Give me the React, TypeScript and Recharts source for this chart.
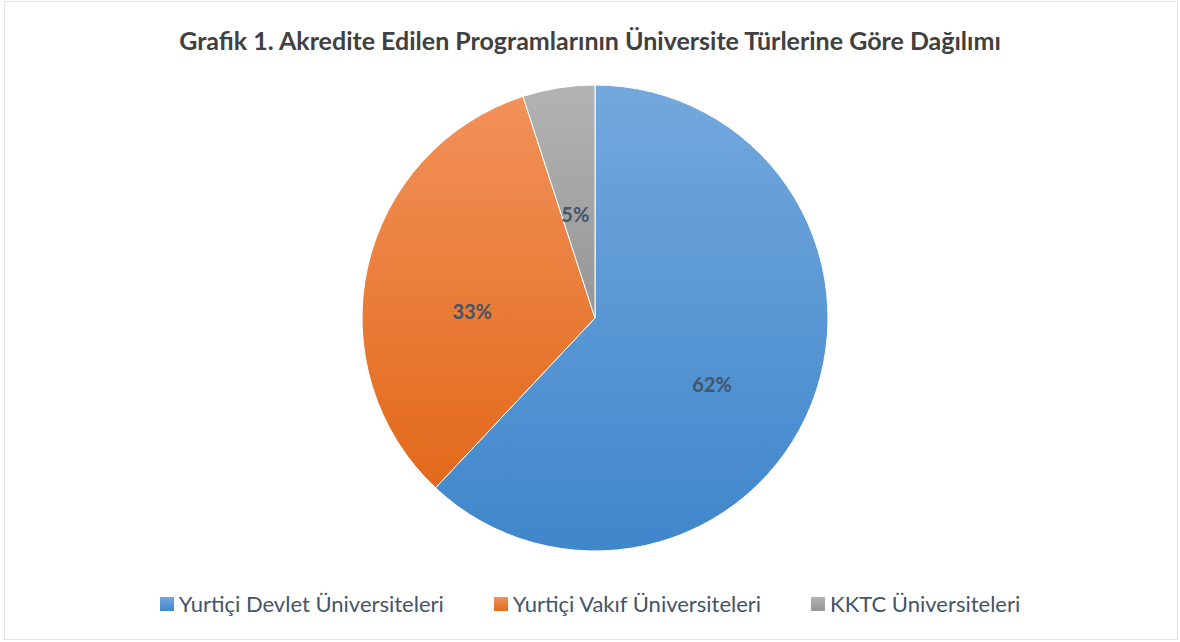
import { PieChart, Pie, Cell } from "recharts";

const categories = [
  "Yurtiçi Devlet Üniversiteleri",
  "Yurtiçi Vakıf Üniversiteleri",
  "KKTC Üniversiteleri",
];
const shares = [62, 33, 5];
const gradients = [
  ["#73a8dd", "#3f86cb"],
  ["#f2915a", "#e2691a"],
  ["#b3b3b3", "#969696"],
];

const data = categories.map((name, i) => ({ name, value: shares[i] }));

const RAD = Math.PI / 180;

function renderLabel(props: any) {
  const { cx, cy, midAngle, outerRadius, percent } = props;
  const r = outerRadius * 0.54;
  const x = cx + r * Math.cos(-midAngle * RAD);
  const y = cy + r * Math.sin(-midAngle * RAD) + 20;
  return (
    <text
      x={x}
      y={y}
      fill="#44546a"
      fontSize={20}
      fontWeight="bold"
      fontFamily="Lato, 'Open Sans', sans-serif"
      textAnchor="middle"
      dominantBaseline="central"
    >
      {Math.round(percent * 100) + "%"}
    </text>
  );
}

export default function App() {
  return (
    <div
      style={{
        position: "absolute",
        left: 0,
        top: 0,
        width: 1180,
        height: 642,
        background: "#fff",
        fontFamily: "Lato, 'Open Sans', sans-serif",
      }}
    >
      <div
        style={{
          position: "absolute",
          left: 4,
          top: 1,
          width: 1172,
          height: 637,
          border: "1px solid #e1e4e8",
        }}
      />
      <div
        style={{
          position: "absolute",
          top: 25,
          left: 0,
          width: 1180,
          textAlign: "center",
          fontSize: 25,
          lineHeight: "30px",
          fontWeight: "bold",
          color: "#404040",
        }}
      >
        Grafik 1. Akredite Edilen Programlarının Üniversite Türlerine Göre Dağılımı
      </div>
      <div style={{ position: "absolute", left: 0, top: 0 }}>
        <PieChart width={1180} height={642}>
          <defs>
            {gradients.map((g, i) => (
              <linearGradient key={i} id={"grad" + i} x1="0" y1="0" x2="0" y2="1">
                <stop offset="0%" stopColor={g[0]} />
                <stop offset="100%" stopColor={g[1]} />
              </linearGradient>
            ))}
          </defs>
          <Pie
            data={data}
            dataKey="value"
            nameKey="name"
            cx={590}
            cy={313}
            outerRadius={233}
            startAngle={90}
            endAngle={-270}
            stroke="#ffffff"
            strokeWidth={1}
            label={renderLabel}
            labelLine={false}
            isAnimationActive={false}
          >
            {data.map((d, i) => (
              <Cell key={d.name} fill={`url(#grad${i})`} />
            ))}
          </Pie>
        </PieChart>
      </div>
      <div
        style={{
          position: "absolute",
          top: 590,
          left: 0,
          width: 1180,
          display: "flex",
          justifyContent: "center",
          gap: 50,
          fontSize: 22,
          lineHeight: "28px",
          color: "#44546a",
        }}
      >
        {categories.map((c, i) => (
          <div key={c} style={{ display: "flex", alignItems: "center" }}>
            <span
              style={{
                display: "inline-block",
                width: 14,
                height: 14,
                marginRight: 5,
                background: `linear-gradient(${gradients[i][0]}, ${gradients[i][1]})`,
              }}
            />
            <span>{c}</span>
          </div>
        ))}
      </div>
    </div>
  );
}
